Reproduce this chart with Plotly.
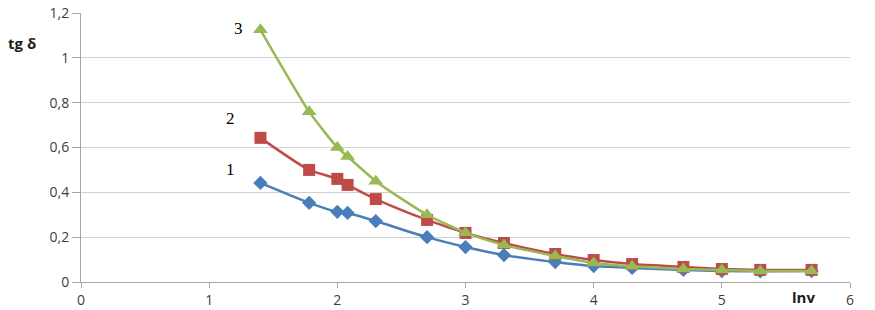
import plotly.graph_objects as go

x = [1.4, 1.78, 2.0, 2.08, 2.3, 2.7, 3.0, 3.3, 3.7, 4.0, 4.3, 4.7, 5.0, 5.3, 5.7]
s1 = [0.442, 0.353, 0.313, 0.308, 0.272, 0.200, 0.156, 0.120, 0.089, 0.071, 0.063, 0.054, 0.049, 0.048, 0.049]
s2 = [0.643, 0.500, 0.460, 0.433, 0.370, 0.277, 0.219, 0.174, 0.125, 0.098, 0.080, 0.067, 0.058, 0.054, 0.054]
s3 = [1.125, 0.760, 0.600, 0.560, 0.450, 0.300, 0.220, 0.165, 0.116, 0.085, 0.070, 0.058, 0.054, 0.049, 0.049]

y_ticks = [0, 0.2, 0.4, 0.6, 0.8, 1.0, 1.2]
y_labels = ["0", "0,2", "0,4", "0,6", "0,8", "1", "1,2"]
x_ticks = [0, 1, 2, 3, 4, 5, 6]

series = [
    ("1", s1, "#4A7EBB", "diamond", 11),
    ("2", s2, "#BE4B48", "square", 12),
    ("3", s3, "#98B954", "triangle-up", 13),
]

fig = go.Figure()
for name, ys, col, sym, sz in series:
    fig.add_trace(go.Scatter(
        x=x, y=ys, mode="lines+markers", name=name,
        line=dict(color=col, width=2.5, shape="spline", smoothing=0.6),
        marker=dict(symbol=sym, size=sz, color=col),
    ))

font = dict(family="Open Sans, DejaVu Sans, sans-serif", size=14, color="#404040")

L, R, T, B = 81, 25, 13, 28
W, H = 875, 310

fig.update_layout(
    width=W, height=H,
    margin=dict(l=L, r=R, t=T, b=B, autoexpand=False),
    paper_bgcolor="white", plot_bgcolor="white",
    showlegend=False,
    font=font,
    xaxis=dict(range=[0, 6], tickvals=x_ticks, showgrid=False, zeroline=False,
               showline=True, linecolor="#A6A6A6", linewidth=1, automargin=False,
               ticks="outside", ticklen=5, tickcolor="#A6A6A6", tickfont=font),
    yaxis=dict(range=[0, 1.2], tickvals=y_ticks, ticktext=y_labels,
               showgrid=True, gridcolor="#D0D0D0", gridwidth=1, zeroline=False,
               showline=True, linecolor="#A6A6A6", linewidth=1, automargin=False,
               ticks="outside", ticklen=8, tickcolor="#A6A6A6", tickfont=font),
)

serif = dict(family="Liberation Serif, DejaVu Serif, serif", size=17, color="black")
for txt, ax_, ay_ in [("3", 1.23, 1.13), ("2", 1.17, 0.73), ("1", 1.17, 0.50)]:
    fig.add_annotation(x=ax_, y=ay_, text=txt, showarrow=False, font=serif,
                       xref="x", yref="y", xanchor="center", yanchor="middle")

bold = dict(family="Open Sans, DejaVu Sans, sans-serif", size=15, color="#202020")
fig.add_annotation(xref="paper", yref="paper",
                   x=(22 - L) / (W - L - R), y=1 - (43 - T) / (H - T - B),
                   xanchor="center", yanchor="middle",
                   text="<b>tg δ</b>", showarrow=False, font=bold)
fig.add_annotation(xref="paper", yref="paper",
                   x=(803 - L) / (W - L - R), y=1 - (297 - T) / (H - T - B),
                   xanchor="center", yanchor="middle",
                   text="<b>lnv</b>", showarrow=False, font=bold)

fig.write_html("out.html", config={"displayModeBar": False},
               post_script="document.body.style.margin='0';document.body.style.overflow='hidden';")
